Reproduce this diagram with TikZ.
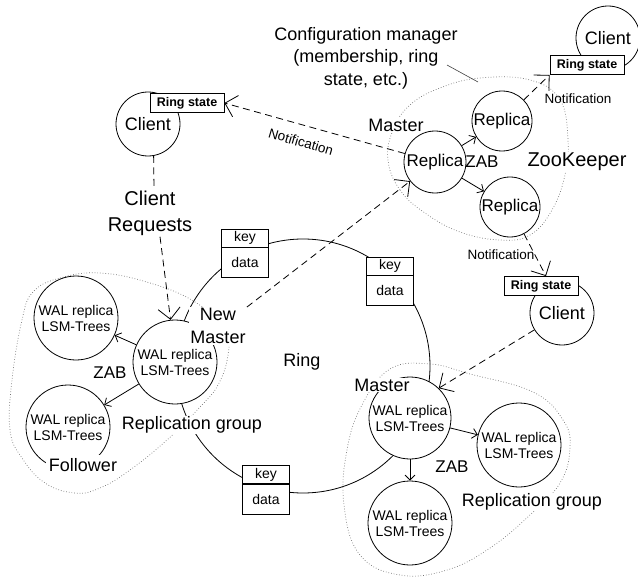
\documentclass[tikz,border=0pt]{standalone}
\usepackage{fontspec}
\setmainfont{Liberation Sans}
\usetikzlibrary{arrows.meta}
\newcommand\fszXL{\fontsize{20}{26}\selectfont}
\newcommand\fszL{\fontsize{18}{22.5}\selectfont}
\newcommand\fszR{\fontsize{17}{20}\selectfont}
\newcommand\fszM{\fontsize{14}{16}\selectfont}
\newcommand\fszS{\fontsize{13.5}{16}\selectfont}
\newcommand\fszB{\fontsize{12.5}{15}\selectfont\bfseries}
\begin{document}
\begin{tikzpicture}[x=1pt,y=-1pt,line width=0.8pt,
  circ/.style={circle,draw,fill=white,inner sep=0pt,align=center},
  lbl/.style={fill=white,inner sep=1pt,align=center},
  rsbox/.style={draw,fill=white,minimum width=74pt,minimum height=19pt,inner sep=0pt,font=\fszB},
  keybox/.style={draw,fill=white,minimum width=47pt,minimum height=18pt,inner sep=0pt,font=\fszM},
  databox/.style={keybox,minimum height=30pt,anchor=north},
  grp/.style={draw=black!55,line width=0.7pt,dash pattern=on 0.7pt off 2pt},
  dsh/.style={dash pattern=on 7pt off 4.5pt},
  note/.style={dsh,-{Straight Barb[length=11pt,width=22pt]}},
  zab/.style={-{Straight Barb[length=5pt,width=10pt]}},
]
\useasboundingbox (0,0) rectangle (638,578);
% ring
\draw (303,366) circle[radius=127pt];
% dotted groups
\draw[grp] plot[smooth cycle,tension=0.7] coordinates {(388,160) (400,190) (425,213) (460,232) (500,240) (530,235) (552,210) (565,175) (568,140) (560,100) (530,80) (480,78) (440,88) (410,105) (393,130)};
\draw[grp] plot[smooth cycle,tension=0.7] coordinates {(33,292) (60,278) (100,273) (150,283) (195,302) (225,330) (228,355) (218,385) (200,407) (167,440) (130,470) (100,488) (75,493) (45,483) (22,458) (10,430) (12,380) (22,320)};
\draw[grp] plot[smooth cycle,tension=0.7] coordinates {(390,369) (430,364) (470,374) (533,392) (563,420) (570,448) (560,483) (530,515) (490,548) (447,570) (400,575) (360,555) (344,505) (347,450) (362,405)};

\node[font=\fszL] (ring) at (302,362) {Ring};

% top-left client
\node[circ,minimum size=64pt,font=\fszL] (cl1) at (148,124) {Client};
\node[rsbox] (rs1) at (187,103) {Ring state};
\node[lbl,font=\fszXL] (creq) at (150,213) {Client\\Requests};

% configuration manager
\node[lbl,font=\fszL,fill=none] (cfg) at (366,58) {Configuration manager\\(membership, ring\\state, etc.)};
\coordinate (cfgp) at (447,65);
\coordinate (zkp) at (478,82);

% zookeeper
\node[circ,minimum size=62pt,font=\fszR] (mr) at (435,162) {Replica};
\node[circ,minimum size=60pt,font=\fszR] (rt) at (502,121) {Replica};
\node[circ,minimum size=60pt,font=\fszR] (rb) at (510,207) {Replica};
\node[lbl,font=\fszL] (zkm) at (396,125) {Master};
\node[font=\fszR,inner sep=1pt] (zab1) at (482,162) {ZAB};
\node[lbl,font=\fszXL] (zk) at (577,162) {ZooKeeper};

% top-right client
\node[circ,minimum size=64pt,font=\fszL] (cl2) at (608,38) {Client};
\node[rsbox] (rs2) at (587,65) {Ring state};
\node[font=\fszS,inner sep=1pt] (nt2) at (578,99) {Notification};

% lower client
\node[font=\fszS,inner sep=1pt] (nt3) at (501,255) {Notification};
\node[circ,minimum size=64pt,font=\fszL] (cl3) at (562,313) {Client};
\node[rsbox] (rs3) at (541,286) {Ring state};

% key/data boxes
\node[keybox] (k1) at (245,238) {key};
\node[databox] (d1) at (k1.south) {data};
\node[keybox] (k2) at (390,266) {key};
\node[databox] (d2) at (k2.south) {data};
\node[keybox] (k3) at (266,474.5) {key};
\node[databox] (d3) at (k3.south) {data};

% left replication group
\node[circ,minimum size=84pt,font=\fszM] (nm) at (175,362) {WAL replica\\LSM-Trees};
\node[circ,minimum size=84pt,font=\fszM] (wl1) at (76,318) {WAL replica\\LSM-Trees};
\node[circ,minimum size=84pt,font=\fszM] (wl2) at (68,427) {WAL replica\\LSM-Trees};
\node[lbl,font=\fszL] (nmlab) at (218,326) {New\\Master};
\node[font=\fszR,inner sep=1pt] (zab2) at (110,373) {ZAB};
\node[lbl,font=\fszL] (rg1) at (192,425) {Replication group};
\node[lbl,font=\fszL,inner sep=3pt] (fol) at (83,465) {Follower};

% right replication group
\node[circ,minimum size=82pt,font=\fszM] (m2) at (410,418) {WAL replica\\LSM-Trees};
\node[circ,minimum size=84pt,font=\fszM] (wr) at (519,445) {WAL replica\\LSM-Trees};
\node[circ,minimum size=84pt,font=\fszM] (wb) at (410,523) {WAL replica\\LSM-Trees};
\node[lbl,font=\fszL] (m2lab) at (382,385) {Master};
\node[font=\fszR,inner sep=1pt] (zab3) at (452,467) {ZAB};
\node[lbl,font=\fszL] (rg2) at (532,502) {Replication group};

% connectors
\draw[line width=0.6pt,black!75] (cfgp) -- (zkp);
\draw[note] (mr) -- (rs1.east);
\node[font=\fszS,rotate=-16.5,inner sep=0pt] (nt1) at (301,142) {Notification};
\draw[note] (rt) -- (rs2.south west);
\draw[note] (rb) -- ([xshift=5pt]rs3.north);
\draw[note] (cl3) -- (m2.46);
\draw[note] (nmlab.north east) -- (mr);
\draw[dsh] (cl1.-80) -- ([xshift=4pt]creq.north);
\draw[note] ([xshift=10pt]creq.south) -- (nm.96);

\draw[zab] (mr) -- (rt);
\draw[zab] (mr) -- (rb);
\draw[zab] (nm) -- (wl1);
\draw[zab] (nm) -- (wl2);
\draw[zab] (m2) -- (wr);
\draw[zab] (m2) -- (wb);
\end{tikzpicture}
\end{document}
